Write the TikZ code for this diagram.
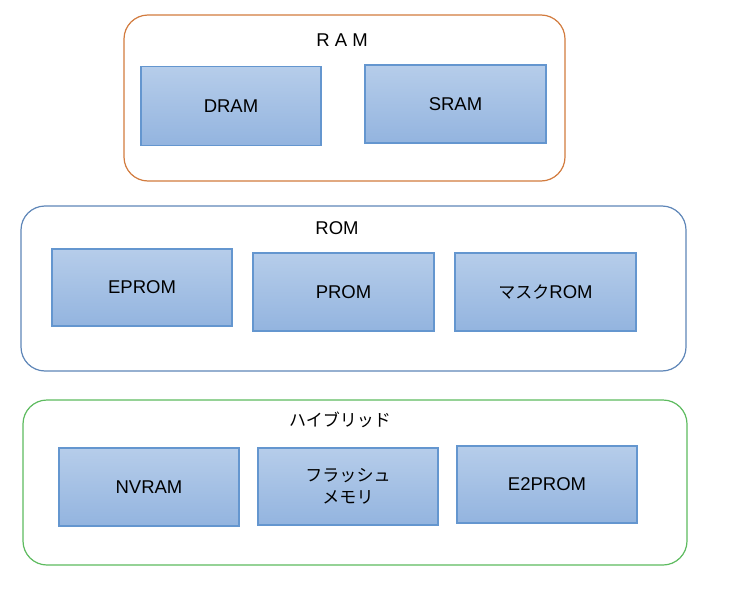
\documentclass[tikz,border=0pt]{standalone}
\usepackage{fontspec}
\setmainfont{Liberation Sans}
\newfontfamily\jp[Scale=0.92]{Noto Sans CJK JP}
\definecolor{ramc}{HTML}{D27B3E}
\definecolor{romc}{HTML}{5E86B8}
\definecolor{hybc}{HTML}{5DBB5F}
\definecolor{boxtop}{HTML}{B6CDEA}
\definecolor{boxbot}{HTML}{93B4DF}
\definecolor{boxline}{HTML}{6496CF}
\begin{document}
\begin{tikzpicture}[x=1pt,y=-1pt,
  frame/.style={draw, line width=1.2pt, rounded corners=24pt, fill=white},
  membox/.style={draw=boxline, line width=1.4pt, top color=boxtop, bottom color=boxbot,
    align=center, font=\fontsize{18.5}{22}\selectfont, inner sep=0pt},
  grouplabel/.style={font=\fontsize{18.5}{22}\selectfont, inner sep=0pt}]
\useasboundingbox (0,0) rectangle (729,589);
% frames
\node[frame, draw=ramc, minimum width=441pt, minimum height=166pt] (ram) at (344.5,98) {};
\node[frame, draw=romc, minimum width=665pt, minimum height=165pt] (rom) at (353.5,288.5) {};
\node[frame, draw=hybc, minimum width=664pt, minimum height=165pt] (hyb) at (355,482.5) {};
% group labels
\node[grouplabel] (ramlabel) at (342,40) {R A M};
\node[grouplabel] (romlabel) at (337,228) {ROM};
\node[grouplabel] (hyblabel) at (340,420) {\jp ハイブリッド};
% RAM
\node[membox, minimum width=180pt, minimum height=79pt] (dram) at (231,106) {DRAM};
\node[membox, minimum width=181pt, minimum height=78pt] (sram) at (455.5,104) {SRAM};
% ROM
\node[membox, minimum width=180pt, minimum height=77pt] (eprom) at (142,287.5) {EPROM};
\node[membox, minimum width=181pt, minimum height=78pt] (prom) at (343.5,292) {PROM};
\node[membox, minimum width=181pt, minimum height=78pt] (mask) at (545.5,292) {{\jp マスク}ROM};
% Hybrid
\node[membox, minimum width=180pt, minimum height=78pt] (nvram) at (149,487) {NVRAM};
\node[membox, minimum width=180pt, minimum height=77pt] (flash) at (348,486.5) {\jp フラッシュ\\\jp メモリ};
\node[membox, minimum width=180pt, minimum height=77pt] (e2prom) at (547,484.5) {E2PROM};
\end{tikzpicture}
\end{document}
